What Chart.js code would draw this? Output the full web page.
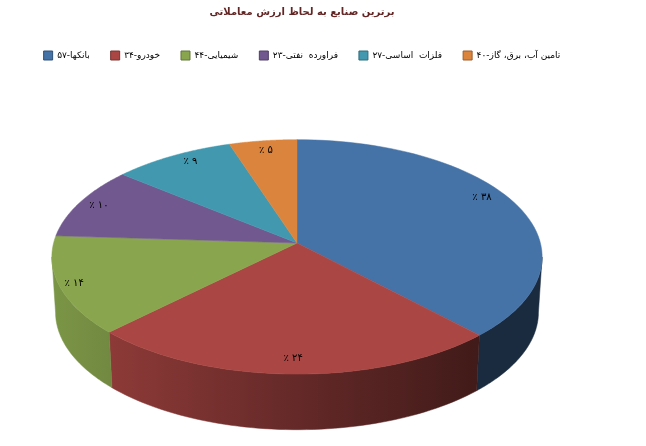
<!DOCTYPE html>
<html>
<head>
<meta charset="utf-8">
<style>
  html, body { margin: 0; padding: 0; background: #fff; }
  canvas { display: block; }
</style>
<script src="https://cdn.jsdelivr.net/npm/chart.js@4/dist/chart.umd.js"></script>
</head>
<body>
<canvas id="chart" width="646" height="446"></canvas>
<script>
const chartTitle = 'برترین صنایع به لحاظ ارزش معاملاتی';
const categories = ['بانکها-۵۷', 'خودرو-۳۴', 'شیمیایی-۴۴', 'فراورده  نفتی-۲۳', 'فلزات  اساسی-۲۷', 'تامین آب، برق، گاز-۴۰'];
const shares = [38, 24.5, 13.5, 10, 9, 5];
const shareLabels = ['۳۸ ٪', '۲۴ ٪', '۱۴ ٪', '۱۰ ٪', '۹ ٪', '۵ ٪'];
const colors = ['#4572A7', '#AA4643', '#89A54E', '#71588F', '#4198AF', '#DB843D'];
const borders = ['#2f5078', '#7a3230', '#617636', '#503e66', '#2d6c7d', '#9c5d2b'];

// tilted pie look, all relative to the radius chart.js works out
const TILT = { rx: 1.411, ry: 0.67, persp: 0.1186, shiftX: -0.029, sideScale: 0.985, sideRy: 0.672, sideDrop: 0.32 };
const FONT = '"DejaVu Sans", "Noto Sans", sans-serif';
// shade of the rim going left to right
const RIM_SHADE = [[0, 0.9], [0.55, 0.56], [0.87, 0.38], [1, 0.38]];
// [radius, angle nudge in degrees] of each share label
const LABEL_SPOT = [[0.9, -6], [0.89, 0], [0.94, 0], [0.91, 0], [0.91, 2.5], [0.9, 0]];

function shade(hex, f) {
    const n = parseInt(hex.slice(1), 16);
    const c = [n >> 16, (n >> 8) & 255, n & 255].map(v => Math.round(v * f));
    return `rgb(${c[0]},${c[1]},${c[2]})`;
}

// angle is clockwise from 12 o'clock, near part of the pie comes out bigger
function project(arc, angle, r, side) {
    const R = arc.outerRadius;
    const cx = arc.x + R * TILT.shiftX;
    const u = Math.sin(angle) * r, v = -Math.cos(angle) * r;
    const w = 1 - TILT.persp * v;
    if (side) {
        return {
            x: cx + R * TILT.rx * TILT.sideScale * u / w,
            y: arc.y + R * TILT.sideDrop + R * TILT.sideRy * v / w
        };
    }
    return { x: cx + R * TILT.rx * u / w, y: arc.y + R * TILT.ry * v / w };
}

function edgeBetween(arc, a0, a1, side) {
    const pts = [];
    const steps = 60;
    for (let i = 0; i <= steps; i++) {
        pts.push(project(arc, a0 + (a1 - a0) * i / steps, 1, side));
    }
    return pts;
}

function fillPath(ctx, pts, fill) {
    ctx.beginPath();
    pts.forEach((p, i) => i ? ctx.lineTo(p.x, p.y) : ctx.moveTo(p.x, p.y));
    ctx.closePath();
    ctx.fillStyle = fill;
    ctx.fill();
    ctx.strokeStyle = fill;
    ctx.lineWidth = 0.5;
    ctx.stroke();
}

const pie3d = {
    id: 'pie3d',
    beforeDatasetsDraw(chart) {
        const ctx = chart.ctx;
        const arcs = chart.getDatasetMeta(0).data;
        // only the front of the rim can be seen, from one side of the pie to the other
        const rimFrom = Math.PI - Math.acos(TILT.persp);
        const rimTo = Math.PI + Math.acos(TILT.persp);
        ctx.save();

        arcs.forEach((arc, i) => {
            const a0 = Math.max(arc.startAngle + Math.PI / 2, rimFrom);
            const a1 = Math.min(arc.endAngle + Math.PI / 2, rimTo);
            if (a1 <= a0) return;
            const width = arc.outerRadius * TILT.rx;
            const left = arc.x + arc.outerRadius * TILT.shiftX - width;
            const grad = ctx.createLinearGradient(left, 0, left + 2 * width, 0);
            RIM_SHADE.forEach(s => grad.addColorStop(s[0], shade(colors[i], s[1])));
            fillPath(ctx, edgeBetween(arc, a0, a1, false).concat(edgeBetween(arc, a0, a1, true).reverse()), grad);
        });

        arcs.forEach((arc, i) => {
            const center = project(arc, 0, 0, false);
            const top = edgeBetween(arc, arc.startAngle + Math.PI / 2, arc.endAngle + Math.PI / 2, false);
            fillPath(ctx, [center].concat(top), colors[i]);
        });

        ctx.font = '10px ' + FONT;
        ctx.fillStyle = '#000';
        ctx.textAlign = 'center';
        ctx.textBaseline = 'middle';
        ctx.direction = 'rtl';
        arcs.forEach((arc, i) => {
            const mid = (arc.startAngle + arc.endAngle) / 2 + Math.PI / 2 + LABEL_SPOT[i][1] * Math.PI / 180;
            const p = project(arc, mid, LABEL_SPOT[i][0], false);
            ctx.fillText(shareLabels[i], p.x, p.y);
        });

        ctx.restore();
        return false;
    }
};

new Chart(document.getElementById('chart'), {
    type: 'pie',
    data: {
        labels: categories,
        datasets: [{ data: shares, backgroundColor: colors, borderColor: borders, borderWidth: 1 }]
    },
    options: {
        responsive: false,
        animation: false,
        layout: { padding: { left: 0, right: 42, top: 0, bottom: 30 } },
        plugins: {
            title: {
                display: true,
                text: chartTitle,
                color: '#632523',
                font: { family: FONT, size: 10, weight: 'bold' },
                padding: { top: 6, bottom: 12 }
            },
            legend: {
                position: 'top',
                labels: {
                    boxWidth: 9,
                    boxHeight: 9,
                    color: '#000',
                    padding: 21,
                    font: { family: FONT, size: 9 },
                    textDirection: 'rtl'
                }
            },
            tooltip: { enabled: false }
        }
    },
    plugins: [pie3d]
});
</script>
</body>
</html>
